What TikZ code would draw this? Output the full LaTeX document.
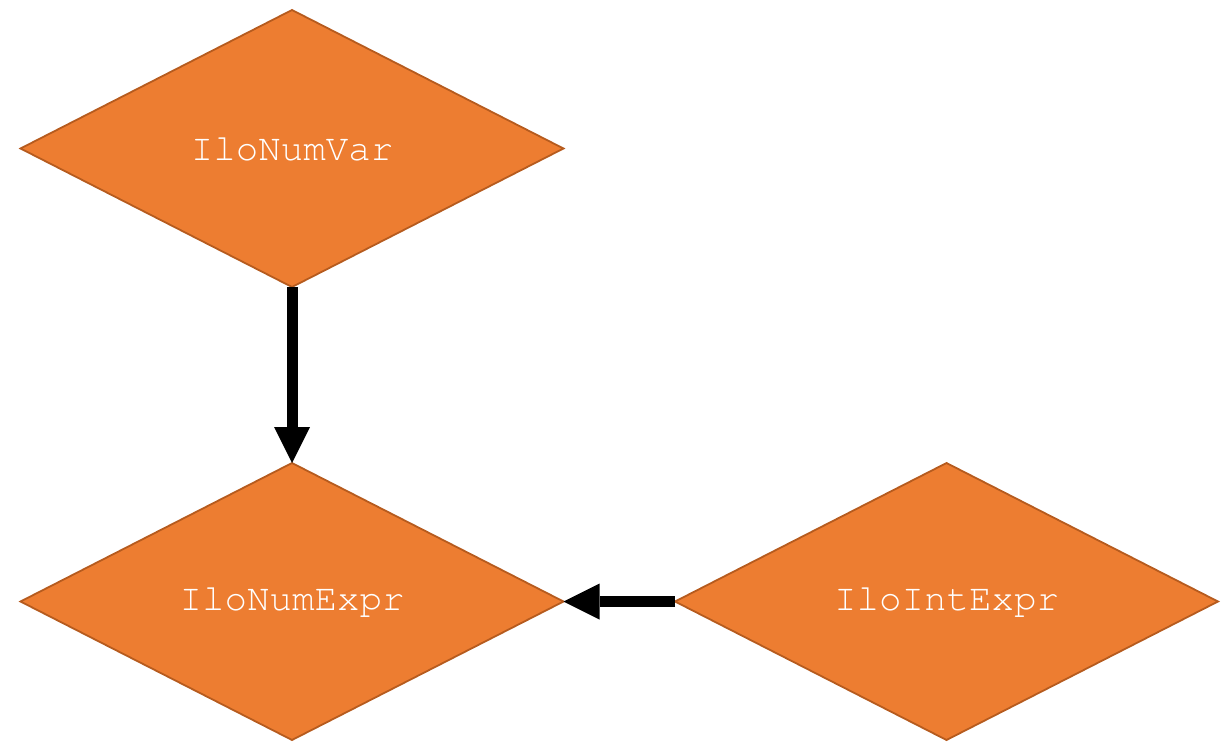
\documentclass[tikz,border=0pt]{standalone}
\usepackage[T1]{fontenc}
\usepackage{fontspec}
\usetikzlibrary{shapes.geometric,arrows.meta}
\definecolor{dfill}{HTML}{ED7D31}
\definecolor{dline}{HTML}{B65B1E}
\newcommand{\courierfont}{\fontencoding{T1}\fontfamily{pcr}\fontseries{m}\fontshape{n}\fontsize{37.5}{42}\selectfont}
\begin{document}
\begin{tikzpicture}[x=1pt,y=-1pt,
  dia/.style={diamond,aspect=1.96,minimum width=543pt,minimum height=277pt,inner sep=0pt,outer sep=0pt,
    fill=dfill,draw=dline,line width=1.8pt,text=white,font=\courierfont},
  conn/.style={line width=11pt,-{Triangle[length=36pt,width=36pt,line width=0pt]}}]
\useasboundingbox (0,0) rectangle (1230,741);
\node[dia] (v) at (292,148.5) {IloNumVar};
\node[dia] (e) at (292,601.5) {IloNumExpr};
\node[dia] (i) at (946.5,601.5) {IloIntExpr};
\draw[conn] (v.south) -- (e.north);
\draw[conn] (i.west) -- (e.east);
\end{tikzpicture}
\end{document}
